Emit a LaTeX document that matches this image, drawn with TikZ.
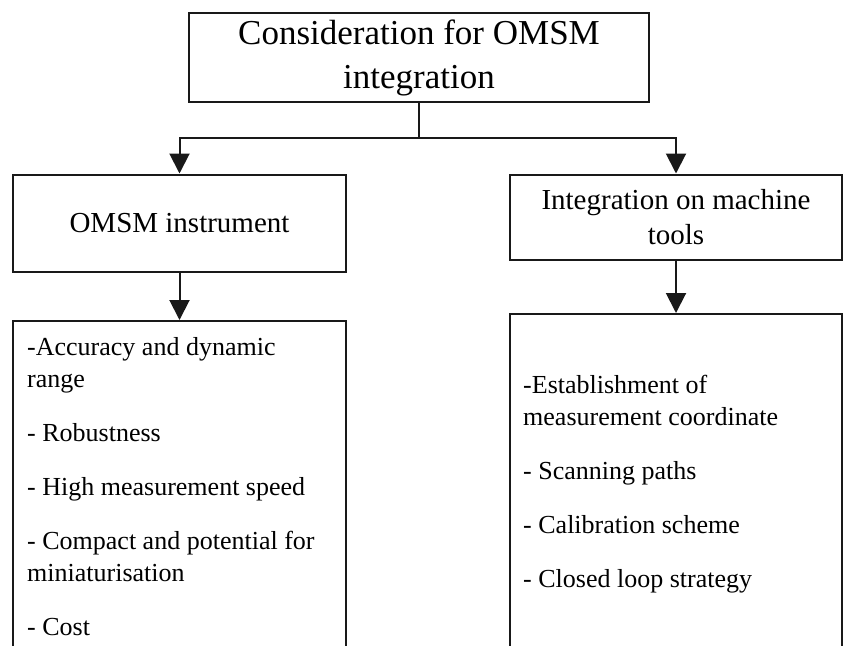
\documentclass[tikz,border=0pt]{standalone}
\usepackage{fontspec}
\setmainfont{Liberation Serif}
\usetikzlibrary{arrows.meta}
\begin{document}
\begin{tikzpicture}[x=1pt,y=-1pt,
  boxnode/.style={draw=black!90,line width=2pt,inner sep=0pt,align=center},
  arr/.style={draw=black!90,line width=2pt,-{Triangle[width=20pt,length=20pt]}},
  link/.style={draw=black!90,line width=2pt},
  itemtext/.style={anchor=north west,inner sep=0pt,align=left,font=\fontsize{26}{32}\selectfont}]
\useasboundingbox (0,0) rectangle (843,645);
\clip (0,0) rectangle (843,645);
\node[boxnode,minimum width=460pt,minimum height=89pt,font=\fontsize{35}{44}\selectfont]
  (top) at (419,57.5) {\raisebox{-2pt}{Consideration for OMSM}\\\raisebox{-2pt}{integration}};
\node[boxnode,minimum width=333pt,minimum height=97pt,font=\fontsize{29}{35}\selectfont]
  (mid1) at (179.5,223) {OMSM instrument};
\node[boxnode,minimum width=332pt,minimum height=85pt,font=\fontsize{29}{35}\selectfont]
  (mid2) at (676,217) {Integration on machine\\tools};
\node[boxnode,anchor=north,minimum width=333pt,minimum height=400pt]
  (low1) at (179.5,320) {};
\node[boxnode,anchor=north,minimum width=332pt,minimum height=400pt]
  (low2) at (676,313) {};
\coordinate (j) at (419,138);
\draw[link] (top.south) -- (j);
\draw[arr] (j) -| (mid1.north);
\draw[arr] (j) -| (mid2.north);
\draw[arr] (mid1.south) -- (low1.north);
\draw[arr] (mid2.south) -- (low2.north);
\node[itemtext] (t1) at (27,335) {\rule{0pt}{20pt}-Accuracy and dynamic\\range\\[22pt]- Robustness\\[22pt]- High measurement speed\\[22pt]- Compact and potential for\\miniaturisation\\[22pt]- Cost};
\node[itemtext] (t2) at (523,373) {\rule{0pt}{20pt}-Establishment of\\measurement coordinate\\[22pt]- Scanning paths\\[22pt]- Calibration scheme\\[22pt]- Closed loop strategy};
\end{tikzpicture}
\end{document}
